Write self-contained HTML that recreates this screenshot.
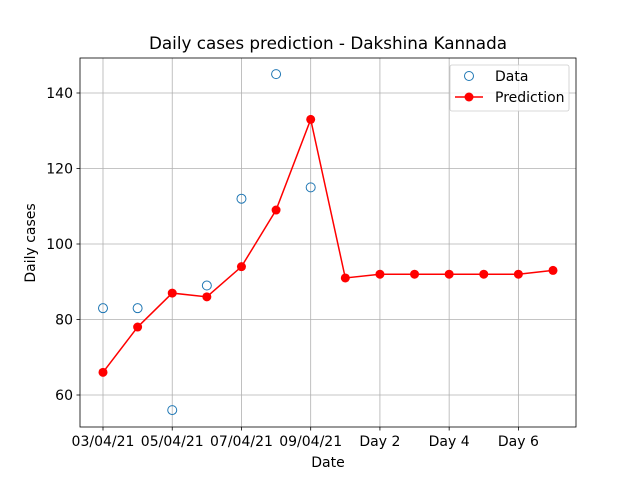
<!DOCTYPE html>
<html><head><meta charset="utf-8"><style>
body{margin:0;background:#fff}
svg{display:block;font-family:"DejaVu Sans","Liberation Sans",sans-serif}
</style></head><body>
<svg id="chart" width="640" height="480" viewBox="0 0 640 480">
<rect width="640" height="480" fill="#fff"/>
<g id="grid"></g>
<g id="plot"></g>
<rect x="80" y="58" width="496" height="369" fill="none" stroke="#000" stroke-width="0.8"/>
<g id="xticks"></g>
<g id="yticks"></g>
<text x="328" y="49" text-anchor="middle" font-size="16.8">Daily cases prediction - Dakshina Kannada</text>
<text x="328" y="467" text-anchor="middle" font-size="14">Date</text>
<text transform="translate(35,243) rotate(-90)" text-anchor="middle" font-size="14">Daily cases</text>
<g>
<rect x="450" y="65" width="119" height="46" rx="2" fill="#fff" fill-opacity="0.8" stroke="#ccc" stroke-width="0.8"/>
<g>
<circle cx="469" cy="76" r="4.5" fill="none" stroke="#1f77b4" stroke-width="1"/>
<text x="495" y="81" font-size="14">Data</text>
</g>
<g>
<line x1="455" y1="97" x2="483" y2="97" stroke="red" stroke-width="1.5"/>
<circle cx="469" cy="97" r="4.5" fill="red"/>
<text x="495" y="102" font-size="14">Prediction</text>
</g>
</g>
</svg>
<script>
const xTickIdx=[0,2,4,6,8,10,12];
const xTickLabels=["03/04/21","05/04/21","07/04/21","09/04/21","Day 2","Day 4","Day 6"];
const yTicks=[60,80,100,120,140];
const dataValues=[83,83,56,89,112,145,115];
const predValues=[66,78,87,86,94,109,133,91,92,92,92,92,92,93];
const NS="http://www.w3.org/2000/svg";
function xs(i){return 103+i*(553-103)/13;}
function ys(v){return 395-(v-60)*(302/80);}
function mk(tag,attrs,parent){const e=document.createElementNS(NS,tag);for(const k in attrs)e.setAttribute(k,attrs[k]);document.getElementById(parent).appendChild(e);return e;}
xTickIdx.forEach((i,k)=>{
 const x=xs(i);
 const g=mk('line',{x1:x,x2:x,y1:58,y2:427,stroke:'#b0b0b0','stroke-width':0.8},'grid');
 
 
 const t=mk('line',{x1:x,x2:x,y1:427,y2:430.5,stroke:'#000','stroke-width':0.8},'xticks');
 
 
 const l=mk('text',{x:x,y:446,'text-anchor':'middle','font-size':14},'xticks');
 l.textContent=xTickLabels[k];
 
 
});
yTicks.forEach(v=>{
 const y=ys(v);
 const g=mk('line',{x1:80,x2:576,y1:y,y2:y,stroke:'#b0b0b0','stroke-width':0.8},'grid');
 
 
 const t=mk('line',{x1:76.5,x2:80,y1:y,y2:y,stroke:'#000','stroke-width':0.8},'yticks');
 
 
 const l=mk('text',{x:73,y:y+5,'text-anchor':'end','font-size':14},'yticks');
 l.textContent=v;
 
 
});
const pl=mk('polyline',{points:predValues.map((v,i)=>xs(i)+','+ys(v)).join(' '),fill:'none',stroke:'red','stroke-width':1.5},'plot');


predValues.forEach((v,i)=>{
 const c=mk('circle',{cx:xs(i),cy:ys(v),r:4.5,fill:'red'},'plot');
 
 
});
dataValues.forEach((v,i)=>{
 const c=mk('circle',{cx:xs(i),cy:ys(v),r:4.5,fill:'none',stroke:'#1f77b4','stroke-width':1},'plot');
 
 
});
</script>
</body></html>
